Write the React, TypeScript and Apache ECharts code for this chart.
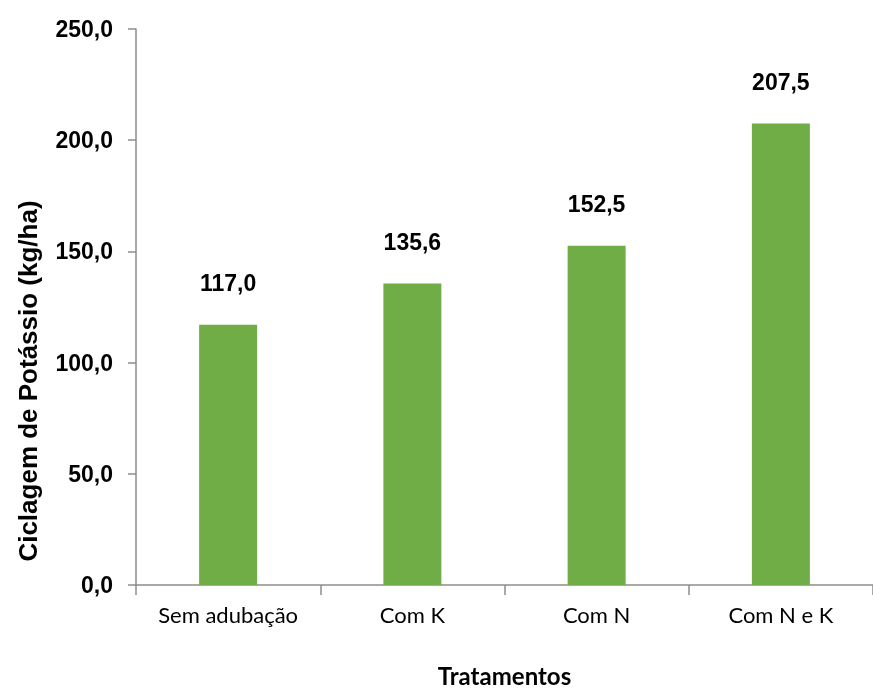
import React, { useEffect, useRef } from "react";
import * as echarts from "echarts";

const categories = ["Sem adubação", "Com K", "Com N", "Com N e K"];
const cycling = [117.0, 135.6, 152.5, 207.5];
const yTicks = { min: 0, max: 250, interval: 50 };

const fmt = (v: number) => v.toFixed(1).replace(".", ",");

export default function App() {
  const ref = useRef<HTMLDivElement>(null);

  useEffect(() => {
    if (!ref.current) return;
    const chart = echarts.init(ref.current, undefined, { renderer: "svg" });
    const axisGrey = "#8c8c8c";
    const boldNum = {
      fontFamily: "Liberation Sans",
      fontWeight: "bold",
      fontSize: 23,
      color: "#000",
    };
    chart.setOption({
      animation: false,
      grid: { left: 136, top: 29, width: 741, height: 561 },
      xAxis: {
        type: "category",
        data: categories,
        name: "Tratamentos",
        nameLocation: "middle",
        nameGap: 78,
        nameTextStyle: {
          fontFamily: "Lato",
          fontWeight: "bold",
          fontSize: 24,
          color: "#000",
        },
        axisLine: { lineStyle: { color: axisGrey, width: 1.5 } },
        axisTick: { show: true, length: 10, lineStyle: { color: axisGrey, width: 1.5 } },
        axisLabel: {
          margin: 18,
          fontFamily: "Lato",
          fontSize: 22,
          color: "#000",
        },
      },
      yAxis: {
        type: "value",
        min: yTicks.min,
        max: yTicks.max,
        interval: yTicks.interval,
        splitLine: { show: false },
        axisLine: { show: true, lineStyle: { color: axisGrey, width: 1.5 } },
        axisTick: { show: true, length: 8, lineStyle: { color: axisGrey, width: 1.5 } },
        axisLabel: {
          ...boldNum,
          margin: 23,
          formatter: (v: number) => fmt(v),
        },
      },
      graphic: [
        {
          type: "text",
          x: 28,
          y: 381,
          rotation: Math.PI / 2,
          style: {
            text: "Ciclagem de Potássio (kg/ha)",
            fontFamily: "Liberation Sans",
            fontWeight: "bold",
            fontSize: 26,
            fill: "#000",
            align: "center",
            verticalAlign: "middle",
          },
        },
      ],
      series: [
        {
          type: "bar",
          data: cycling,
          barWidth: 58,
          itemStyle: { color: "#70ad47" },
          label: {
            ...boldNum,
            show: true,
            position: "top",
            distance: 30,
            formatter: (p: any) => fmt(p.value),
          },
        },
      ],
    });
    return () => chart.dispose();
  }, []);

  return (
    <div
      ref={ref}
      style={{ position: "fixed", left: 0, top: 0, width: 873, height: 692 }}
    />
  );
}
